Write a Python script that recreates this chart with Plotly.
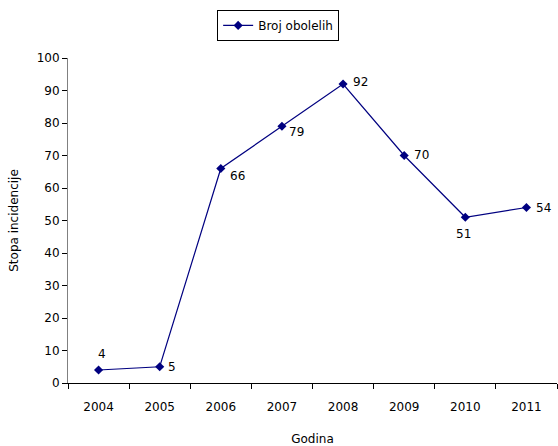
import plotly.graph_objects as go

# Incidence by year
godine = ["2004", "2005", "2006", "2007", "2008", "2009", "2010", "2011"]
broj_obolelih = [4, 5, 66, 79, 92, 70, 51, 54]
# pixel offsets of each value label relative to its point
pomak_x = [3, 12, 17, 15, 17, 17, -2, 17]
pomak_y = [16, 0, -7, -6, 2, 1, -17, 0]

FONT = "DejaVu Sans"

fig = go.Figure()
fig.add_trace(go.Scatter(
    x=godine,
    y=broj_obolelih,
    mode="lines+markers",
    name="Broj obolelih",
    line=dict(color="#000080", width=1.2),
    marker=dict(symbol="diamond", size=7, color="#000080"),
    cliponaxis=False,
))

# value labels, placed by category index on the same axes
for i, (v, dx, dy) in enumerate(zip(broj_obolelih, pomak_x, pomak_y)):
    fig.add_annotation(
        x=i, y=v, xref="x", yref="y", text=str(v), showarrow=False,
        xshift=dx, yshift=dy,
        font=dict(family=FONT, size=12, color="#000000"),
    )

fig.update_layout(
    width=558,
    height=446,
    margin=dict(l=68, r=1, t=58, b=63),
    paper_bgcolor="white",
    plot_bgcolor="white",
    font=dict(family=FONT, size=12, color="#000000"),
    showlegend=True,
    legend=dict(
        x=0.305, y=1.148, xanchor="left", yanchor="top",
        bordercolor="#000000", borderwidth=1,
        font=dict(family=FONT, size=12),
        bgcolor="white",
        itemwidth=30,
        tracegroupgap=0,
    ),
    xaxis=dict(
        type="category",
        range=[-0.5, 7.5],
        showgrid=False,
        showline=True,
        linecolor="#000000",
        linewidth=1,
        ticks="outside",
        tickson="boundaries",
        ticklen=5,
        tickcolor="#000000",
        ticklabelstandoff=13,
        title=dict(text="Godina", standoff=22, font=dict(family=FONT, size=12)),
    ),
    yaxis=dict(
        range=[0, 100],
        dtick=10,
        showgrid=False,
        zeroline=False,
        showline=True,
        linecolor="#808080",
        linewidth=1,
        ticks="outside",
        ticklen=5,
        tickcolor="#000000",
        title=dict(text="Stopa incidencije", standoff=15, font=dict(family=FONT, size=12)),
    ),
)

fig.write_html("out.html")
